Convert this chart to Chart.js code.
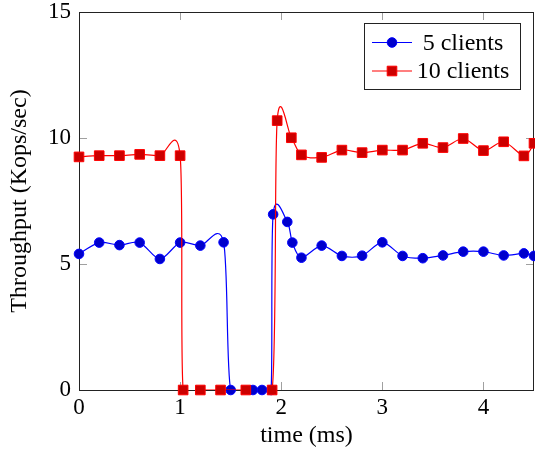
<!DOCTYPE html>
<html>
<head>
<meta charset="utf-8">
<script src="https://cdn.jsdelivr.net/npm/chart.js"></script>
<style>
  html, body { margin: 0; padding: 0; background: #fff; overflow: hidden; }
  #wrap { width: 535px; height: 450px; }
</style>
</head>
<body>
<div id="wrap"><canvas id="chart"></canvas></div>
<script>
// tick positions
const xTicks = [0, 1, 2, 3, 4];
const yTicks = [0, 5, 10, 15];

// 5 clients
const time5 = [0, 0.2, 0.4, 0.6, 0.8, 1.0, 1.2, 1.43, 1.5, 1.72, 1.81, 1.9, 1.92, 2.06, 2.11, 2.2, 2.4,
               2.6, 2.8, 3.0, 3.2, 3.4, 3.6, 3.8, 4.0, 4.2, 4.4, 4.5];
const kops5 = [5.4, 5.85, 5.75, 5.85, 5.2, 5.85, 5.73, 5.86, 0, 0, 0, 0, 6.97, 6.67, 5.85, 5.25, 5.73,
               5.32, 5.33, 5.86, 5.32, 5.23, 5.34, 5.49, 5.49, 5.34, 5.42, 5.32];

// 10 clients
const time10 = [0, 0.2, 0.4, 0.6, 0.8, 1.0, 1.03, 1.2, 1.4, 1.65, 1.91, 1.96, 2.1, 2.2, 2.4,
                2.6, 2.8, 3.0, 3.2, 3.4, 3.6, 3.8, 4.0, 4.2, 4.4, 4.5];
const kops10 = [9.25, 9.3, 9.3, 9.35, 9.3, 9.3, 0, 0, 0, 0, 0, 10.69, 10.01, 9.33, 9.23,
                9.52, 9.42, 9.52, 9.52, 9.79, 9.62, 9.98, 9.5, 9.85, 9.29, 9.79];

const serif = "'Liberation Serif', 'DejaVu Serif', serif";
Chart.defaults.font.family = serif;
Chart.defaults.font.size = 23;
Chart.defaults.color = '#000';

function toPoints(xs, ys) {
    return xs.map(function (x, i) { return {x: x, y: ys[i]}; });
}

// pgfplots "smooth": control points = p +- k * (next - prev), no distance weighting.
// The curve itself is clipped to the axis box, the markers are not.
const smoothK = 0.15;
const smoothPlugin = {
    id: 'tikzSmooth',
    beforeDatasetsDraw(chart) {
        chart.data.datasets.forEach(function (ds, i) {
            const meta = chart.getDatasetMeta(i);
            const line = meta.dataset;
            if (!line) return;
            if (typeof line.updateControlPoints === 'function') {
                line.updateControlPoints(chart.chartArea, 'x');
            }
            const pts = meta.data;
            const n = pts.length;
            for (let j = 0; j < n; j++) {
                const p = pts[j];
                const prev = pts[Math.max(j - 1, 0)];
                const next = pts[Math.min(j + 1, n - 1)];
                const dx = (next.x - prev.x) * smoothK;
                const dy = (next.y - prev.y) * smoothK;
                p.cp1x = p.x - dx; p.cp1y = p.y - dy;
                p.cp2x = p.x + dx; p.cp2y = p.y + dy;
            }
            line._pointsUpdated = true;
            delete line._path;
            if (!line._clipWrapped) {
                const draw = line.draw;
                line.draw = function (ctx) {
                    const a = chart.chartArea;
                    ctx.save();
                    ctx.beginPath();
                    ctx.rect(a.left, a.top, a.right - a.left, a.bottom - a.top);
                    ctx.clip();
                    draw.apply(this, arguments);
                    ctx.restore();
                };
                line._clipWrapped = true;
            }
        });
    }
};

// black frame with small grey ticks pointing inwards on all four sides
const framePlugin = {
    id: 'frame',
    beforeDatasetsDraw(chart) {
        const ctx = chart.ctx;
        const a = chart.chartArea;
        const sx = chart.scales.x, sy = chart.scales.y;
        const len = 8;
        ctx.save();
        ctx.strokeStyle = '#a0a0a0';
        ctx.lineWidth = 1;
        ctx.beginPath();
        xTicks.forEach(function (v) {
            const px = Math.round(sx.getPixelForValue(v)) + 0.5;
            ctx.moveTo(px, a.bottom); ctx.lineTo(px, a.bottom - len);
            ctx.moveTo(px, a.top); ctx.lineTo(px, a.top + len);
        });
        yTicks.forEach(function (v) {
            const py = Math.round(sy.getPixelForValue(v)) + 0.5;
            ctx.moveTo(a.left, py); ctx.lineTo(a.left + len, py);
            ctx.moveTo(a.right, py); ctx.lineTo(a.right - len, py);
        });
        ctx.stroke();
        ctx.strokeStyle = '#222';
        ctx.strokeRect(Math.round(a.left) + 0.5, Math.round(a.top) + 0.5,
                       Math.round(a.right - a.left) - 1, Math.round(a.bottom - a.top));
        ctx.restore();
    }
};

// boxed legend in the upper right corner of the plot
const legendPlugin = {
    id: 'boxLegend',
    afterDraw(chart) {
        const ctx = chart.ctx;
        const left = 364, top = 23, w = 156, h = 66;
        ctx.save();
        ctx.fillStyle = '#fff';
        ctx.fillRect(left, top, w, h);
        ctx.strokeStyle = '#222';
        ctx.lineWidth = 1;
        ctx.strokeRect(left + 0.5, top + 0.5, w, h);
        chart.data.datasets.forEach(function (ds, i) {
            const y = top + 19.5 + i * 28.5;
            const mx = left + 28;
            ctx.strokeStyle = ds.borderColor;
            ctx.lineWidth = ds.borderWidth;
            ctx.beginPath();
            ctx.moveTo(left + 8, y);
            ctx.lineTo(left + 48, y);
            ctx.stroke();
            ctx.fillStyle = ds.pointBackgroundColor;
            ctx.strokeStyle = ds.pointBorderColor;
            ctx.lineWidth = 1;
            ctx.beginPath();
            if (ds.pointStyle === 'rect') {
                const s = ds.pointRadius * Math.SQRT1_2;
                ctx.rect(mx - s, y - s, 2 * s, 2 * s);
            } else {
                ctx.arc(mx, y, ds.pointRadius, 0, Math.PI * 2);
            }
            ctx.fill();
            ctx.stroke();
            ctx.fillStyle = '#000';
            ctx.font = '24px ' + serif;
            ctx.textAlign = 'center';
            ctx.textBaseline = 'middle';
            ctx.fillText(ds.label, left + 99, y + 1);
        });
        ctx.restore();
    }
};

new Chart(document.getElementById('chart'), {
    type: 'line',
    data: {
        datasets: [
            {
                label: '5 clients',
                data: toPoints(time5, kops5),
                borderColor: '#0000ff',
                borderWidth: 1.2,
                pointStyle: 'circle',
                pointRadius: 4.8,
                pointBackgroundColor: '#0000cc',
                pointBorderColor: '#0000ff',
                pointBorderWidth: 1,
                tension: 0.4,
                clip: false,
                order: 1
            },
            {
                label: '10 clients',
                data: toPoints(time10, kops10),
                borderColor: '#ff0000',
                borderWidth: 1.2,
                pointStyle: 'rect',
                pointRadius: 6.8,
                pointBackgroundColor: '#cc0000',
                pointBorderColor: '#ff0000',
                pointBorderWidth: 1,
                tension: 0.4,
                clip: false,
                order: 0
            }
        ]
    },
    options: {
        responsive: true,
        maintainAspectRatio: false,
        animation: false,
        layout: { autoPadding: false, padding: { top: 12, right: 1, left: 0, bottom: 0 } },
        plugins: {
            legend: { display: false },
            tooltip: { enabled: false }
        },
        scales: {
            x: {
                type: 'linear',
                min: 0,
                max: 4.5,
                afterBuildTicks: function (s) { s.ticks = xTicks.map(function (v) { return {value: v}; }); },
                afterFit: function (s) { s.height = 60; s.paddingLeft = 0; s.paddingRight = 0; },
                grid: { display: false, drawTicks: false },
                border: { display: false },
                ticks: { padding: 4, font: { size: 23 } },
                title: { display: true, text: 'time (ms)', font: { size: 24 }, padding: { top: 0, bottom: 0 } }
            },
            y: {
                type: 'linear',
                min: 0,
                max: 15,
                afterBuildTicks: function (s) { s.ticks = yTicks.map(function (v) { return {value: v}; }); },
                afterFit: function (s) { s.width = 79; s.paddingTop = 0; s.paddingBottom = 0; },
                grid: { display: false, drawTicks: false },
                border: { display: false },
                ticks: { padding: 8, font: { size: 23 } },
                title: { display: true, text: 'Throughput (Kops/sec)', font: { size: 24 }, padding: { top: 5, bottom: 0 } }
            }
        }
    },
    plugins: [smoothPlugin, framePlugin, legendPlugin]
});
</script>
</body>
</html>
